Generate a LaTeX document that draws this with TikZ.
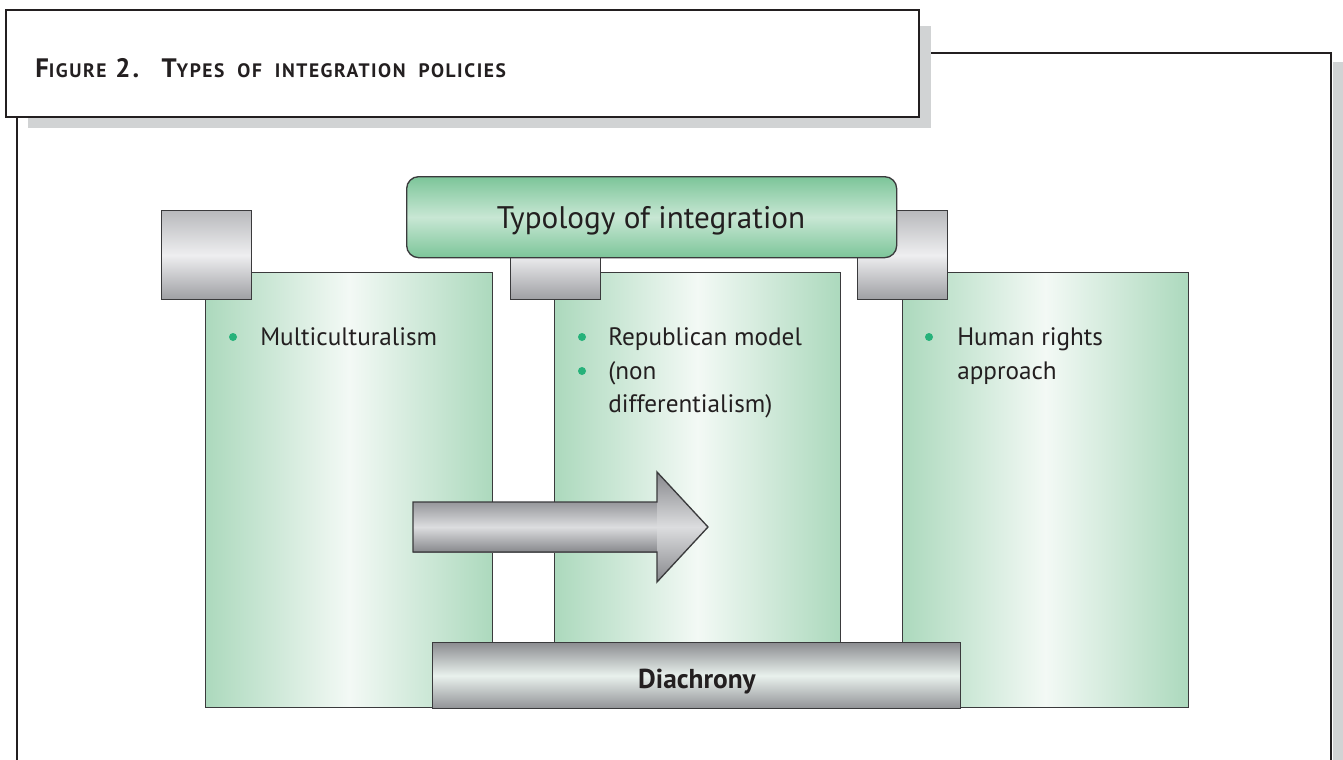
\documentclass[tikz,border=0pt]{standalone}
\usepackage{fontspec}
\setmainfont{PT Sans}
\newfontfamily\ttlfont[LetterSpace=8,WordSpace=2]{PT Sans}
\definecolor{edge}{HTML}{3A3A3C}
\definecolor{frameC}{HTML}{231F20}
\definecolor{shadowC}{HTML}{D1D3D4}
\definecolor{grn}{RGB}{172,217,189}
\definecolor{grnL}{RGB}{243,249,245}
\definecolor{tyD}{RGB}{124,197,153}
\definecolor{tyL}{RGB}{200,231,212}
\definecolor{tabT}{RGB}{184,185,188}
\definecolor{tabM}{RGB}{238,238,240}
\definecolor{tabB}{RGB}{158,159,163}
\definecolor{arT}{RGB}{150,151,155}
\definecolor{arM}{RGB}{220,221,223}
\definecolor{arB}{RGB}{135,136,140}
\definecolor{dbT}{RGB}{140,141,145}
\definecolor{dbM}{RGB}{233,241,237}
\definecolor{dbB}{RGB}{145,146,150}
\definecolor{bulC}{RGB}{38,178,122}
\definecolor{txt}{HTML}{231F20}
\newcommand\bodyfont{\fontsize{18.9}{25}\selectfont}
\newcommand\tbig{\fontsize{20}{20}\selectfont}
\newcommand\tsm{\fontsize{14.6}{14.6}\selectfont}
\begin{document}
\begin{tikzpicture}[x=0.75pt,y=-0.75pt,
  gbox/.style={draw=edge, line width=1pt, left color=grn, right color=grn, middle color=grnL,
    minimum width=286*0.75pt, minimum height=435*0.75pt, anchor=north west, inner sep=0pt},
  tabbox/.style={draw=edge, line width=1pt, top color=tabT, bottom color=tabB, middle color=tabM,
    minimum width=90*0.75pt, minimum height=89*0.75pt, anchor=north west, inner sep=0pt},
  bodytext/.style={anchor=base west, inner sep=0pt, font=\bodyfont, text=txt},
  bul/.style={fill=bulC, draw=none, circle, minimum size=8*0.75pt, inner sep=0pt}
]
\clip (0,0) rectangle (1343,760);
\fill[white] (0,0) rectangle (1343,760);
% outer frame
\fill[shadowC] (1333,62) rectangle (1343,770);
\draw[frameC, line width=1.6pt] (17,116) -- (17,775);
\draw[frameC, line width=1.6pt] (900,53) -- (1331,53) -- (1331,775);
% title box
\fill[shadowC] (28,26) rectangle (931,128);
\node[draw=frameC, line width=1.4pt, fill=white, anchor=north west, inner sep=0pt,
  minimum width=913*0.75pt, minimum height=107*0.75pt] (title) at (5,9) {};
\node[anchor=base west, inner sep=0pt, text=txt] (titletext) at (35,77)
  {\ttlfont\bfseries {\tbig F}{\tsm IGURE} {\tbig 2.}\hspace{9pt} {\tbig T}{\tsm YPES OF INTEGRATION POLICIES}};
% green boxes
\node[gbox, minimum width=287*0.75pt] (left) at (205,272) {};
\node[gbox] (mid) at (554,272) {};
\node[gbox] (right) at (902,272) {};
% tabs
\node[tabbox] (tabL) at (161,210) {};
\node[tabbox] (tabM) at (510,210) {};
\node[tabbox] (tabR) at (857,210) {};
% typology
\node[draw=edge, line width=1pt, rounded corners=9pt, top color=tyD, bottom color=tyD, middle color=tyL,
  minimum width=490*0.75pt, minimum height=81*0.75pt, anchor=north west, inner sep=0pt] (typo) at (406,176) {};
\node[anchor=base, inner sep=0pt, text=txt, font=\fontsize{23.4}{28}\selectfont] (typotext) at (651,228) {Typology of integration};
% bullet texts
\node[bul] (b1) at (233,337) {};
\node[bodytext] (t1) at (260,345) {Multiculturalism};
\node[bul] (b2) at (582,337) {};
\node[bodytext] (t2) at (608,345) {Republican model};
\node[bul] (b3) at (582,371) {};
\node[bodytext] (t3) at (608,379) {(non};
\node[bodytext] (t3b) at (608,412) {differentialism)};
\node[bul] (b4) at (929,337) {};
\node[bodytext] (t4) at (957,345) {Human rights};
\node[bodytext] (t4b) at (957,379) {approach};
% arrow
\shade[top color=arT, bottom color=arB, middle color=arM] (413,502) rectangle (657,552);
\shade[top color=arB, bottom color=arB, middle color=arM] (657,472) -- (708,527) -- (657,582) -- cycle;
\draw[edge, line width=1pt, line join=miter] (413,502) -- (657,502) -- (657,472) -- (708,527) -- (657,582) -- (657,552) -- (413,552) -- cycle;
% diachrony bar
\node[draw=edge, line width=1pt, top color=dbT, bottom color=dbB, middle color=dbM,
  minimum width=528*0.75pt, minimum height=66*0.75pt, anchor=north west, inner sep=0pt] (dia) at (432,642) {};
\node[anchor=base, inner sep=0pt, text=txt, font=\fontsize{20.5}{24}\selectfont\bfseries] (diatext) at (697,688) {Diachrony};
\end{tikzpicture}
\end{document}
